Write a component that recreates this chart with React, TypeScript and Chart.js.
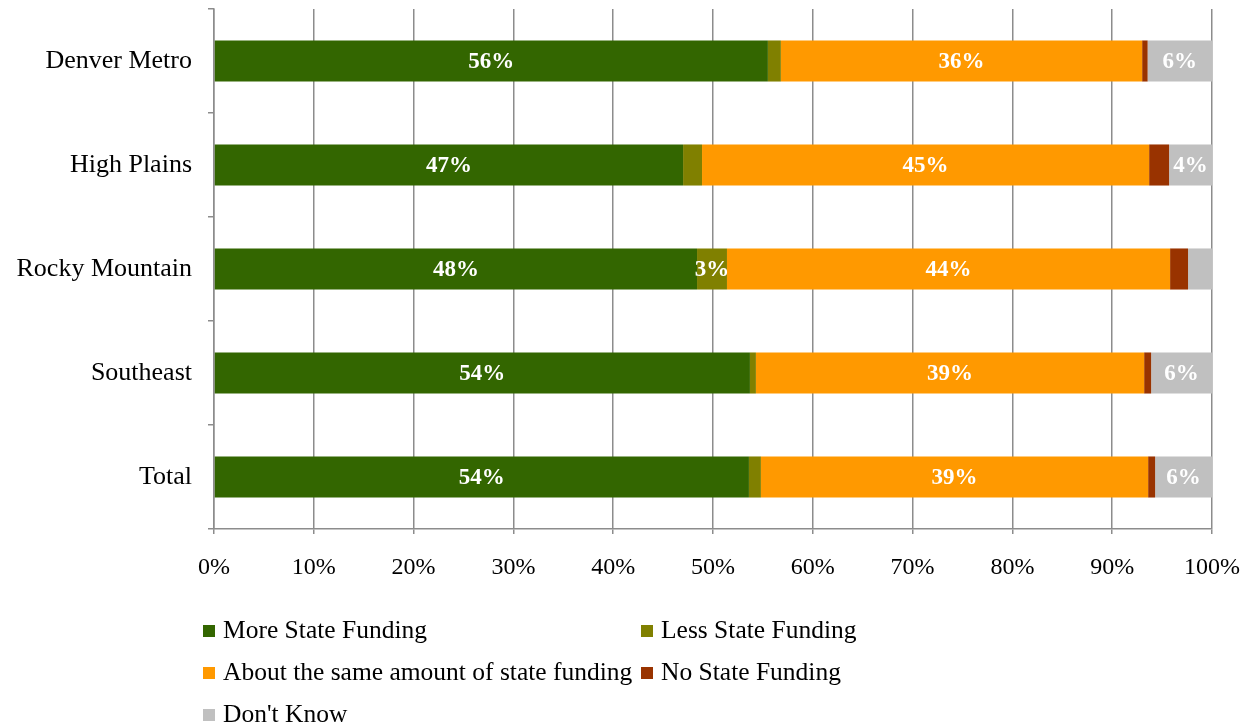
import { useEffect, useRef } from 'react';
import { Chart, registerables } from 'chart.js';

Chart.register(...registerables);

const categories = ['Denver Metro', 'High Plains', 'Rocky Mountain', 'Southeast', 'Total'];
const moreState = [55.5, 47.0, 48.4, 53.7, 53.6];
const lessState = [1.3, 1.9, 3.0, 0.6, 1.2];
const aboutSame = [36.2, 44.8, 44.4, 38.9, 38.8];
const noState = [0.55, 2.0, 1.8, 0.7, 0.7];
const dontKnow = [6.45, 4.3, 2.4, 6.1, 5.7];
const tickLabels = ['0%', '10%', '20%', '30%', '40%', '50%', '60%', '70%', '80%', '90%', '100%'];

const seriesNames = [
  'More State Funding',
  'Less State Funding',
  'About the same amount of state funding',
  'No State Funding',
  "Don't Know",
];
const seriesColors = ['#336600', '#808000', '#FF9900', '#993300', '#C0C0C0'];
const seriesData = [moreState, lessState, aboutSame, noState, dontKnow];

const FONT = '"Liberation Serif", "Times New Roman", serif';
const GRID = '#8c8c8c';

export default function App() {
  const ref = useRef<HTMLCanvasElement>(null);

  useEffect(() => {
    if (!ref.current) return;

    const labelPlugin = {
      id: 'segLabels',
      afterDatasetsDraw(chart: any) {
        const ctx = chart.ctx;
        ctx.save();
        ctx.font = `bold 23px ${FONT}`;
        ctx.fillStyle = '#ffffff';
        ctx.textAlign = 'center';
        ctx.textBaseline = 'middle';
        chart.data.datasets.forEach((ds: any, i: number) => {
          const meta = chart.getDatasetMeta(i);
          meta.data.forEach((el: any, j: number) => {
            const v = ds.data[j];
            if (v < 2.5) return;
            const p = el.getProps(['x', 'y', 'base'], true);
            ctx.fillText(Math.round(v) + '%', (p.x + p.base) / 2, p.y + 1);
          });
        });
        ctx.restore();
      },
    };

    const legendPlugin = {
      id: 'gridLegend',
      afterDraw(chart: any) {
        const { ctx, chartArea } = chart;
        ctx.save();
        ctx.font = `25.5px ${FONT}`;
        ctx.textBaseline = 'middle';
        ctx.textAlign = 'left';
        chart.data.datasets.forEach((ds: any, i: number) => {
          const col = i % 2;
          const row = Math.floor(i / 2);
          const x = chartArea.left - 11 + col * 438;
          const y = chartArea.bottom + 102 + row * 42;
          ctx.fillStyle = ds.backgroundColor;
          ctx.fillRect(x, y - 6, 12, 12);
          ctx.fillStyle = '#000000';
          ctx.fillText(ds.label, x + 20, y);
        });
        ctx.restore();
      },
    };

    const chart = new Chart(ref.current, {
      type: 'bar',
      data: {
        labels: categories,
        datasets: seriesData.map((d, i) => ({
          label: seriesNames[i],
          data: d,
          backgroundColor: seriesColors[i],
          borderWidth: 0,
          categoryPercentage: 1,
          barPercentage: 0.395,
        })),
      },
      options: {
        indexAxis: 'y',
        responsive: false,
        animation: false,
        layout: { padding: { top: 9, right: 48, bottom: 137, left: 0 } },
        plugins: {
          legend: { display: false },
          tooltip: { enabled: false },
        },
        scales: {
          x: {
            stacked: true,
            min: 0,
            max: 100,
            afterFit(scale: any) {
              scale.height = 60;
            },
            ticks: {
              stepSize: 10,
              color: '#000',
              font: { family: FONT, size: 24 },
              padding: 19,
              maxRotation: 0,
              callback: (_v: any, idx: number) => tickLabels[idx],
            },
            grid: { color: GRID, lineWidth: 1.5, tickLength: 5, drawTicks: true },
            border: { display: true, color: GRID, width: 1.5 },
          },
          y: {
            stacked: true,
            afterFit(scale: any) {
              scale.width = 214;
              scale.paddingTop = 0;
              scale.paddingBottom = 0;
            },
            ticks: {
              color: '#000',
              font: { family: FONT, size: 26 },
              padding: 16,
            },
            grid: { offset: true, drawOnChartArea: false, color: GRID, lineWidth: 1.5, tickLength: 6 },
            border: { display: true, color: GRID, width: 1.5 },
          },
        },
      },
      plugins: [labelPlugin, legendPlugin],
    });

    return () => chart.destroy();
  }, []);

  return (
    <div style={{ position: 'absolute', left: 0, top: 0, width: 1260, height: 726, background: '#fff' }}>
      <canvas ref={ref} width={1260} height={726} style={{ display: 'block' }} />
    </div>
  );
}
